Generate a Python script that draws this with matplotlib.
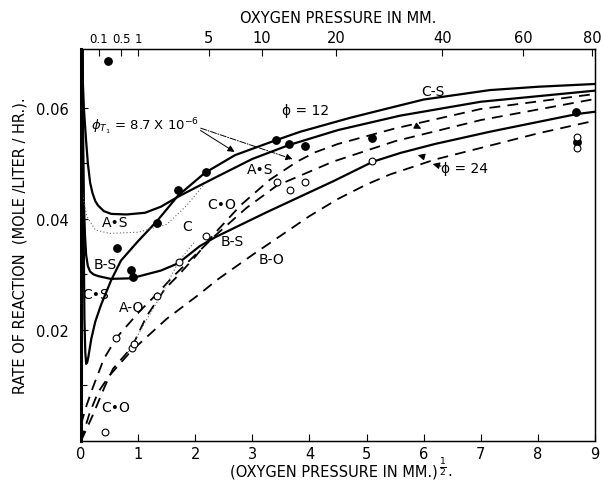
import matplotlib
matplotlib.use("Agg")
import matplotlib.pyplot as plt
import numpy as np

# x = (oxygen pressure in mm)^1/2, y = rate of reaction (mole/liter/hr)

# solid curves
cs_x = [0.03, 0.045, 0.06, 0.075, 0.09, 0.11, 0.13, 0.18, 0.25, 0.35, 0.53, 0.70, 1.0, 1.33, 1.70, 2.17, 2.7, 3.42, 3.84, 4.71, 5.41, 6.0, 7.16, 8.0, 9.0]
cs_y = [0.072, 0.040, 0.022, 0.016, 0.0139, 0.0142, 0.0152, 0.0184, 0.0215, 0.0245, 0.0290, 0.0325, 0.0360, 0.0396, 0.0442, 0.0483, 0.0515, 0.0542, 0.0557, 0.0582, 0.0600, 0.0615, 0.0632, 0.0638, 0.0643]

as_x = [0.01, 0.05, 0.09, 0.12, 0.16, 0.2, 0.25, 0.30, 0.4, 0.53, 0.8, 1.12, 1.4, 1.70, 2.0, 2.4, 3.0, 3.64, 4.5, 5.59, 7.0, 9.0]
as_y = [0.070, 0.060, 0.054, 0.0500, 0.0465, 0.0447, 0.0432, 0.0424, 0.0414, 0.0409, 0.0408, 0.0411, 0.0422, 0.0440, 0.0456, 0.0477, 0.0508, 0.0533, 0.0560, 0.0586, 0.0611, 0.0631]

bs_x = [0.02, 0.035, 0.05, 0.07, 0.09, 0.12, 0.16, 0.22, 0.30, 0.52, 0.88, 1.4, 1.7, 2.08, 2.35, 3.25, 4.42, 5.11, 5.6, 6.2, 7.16, 8.69, 9.0]
bs_y = [0.072, 0.052, 0.043, 0.037, 0.0335, 0.0315, 0.0305, 0.0300, 0.0297, 0.0292, 0.0293, 0.0307, 0.0320, 0.0351, 0.0367, 0.0412, 0.0468, 0.0503, 0.0519, 0.0535, 0.0557, 0.0589, 0.0593]

# dashed curves
ao_x = [0.0, 0.1, 0.21, 0.4, 0.63, 1.03, 1.33, 1.6, 2.0, 2.35, 2.9, 3.43, 4.41, 5.5, 7.0, 9.0]
ao_y = [0.003, 0.0065, 0.0097, 0.0148, 0.0187, 0.0234, 0.0265, 0.0295, 0.0335, 0.0370, 0.0420, 0.0460, 0.0503, 0.0540, 0.0578, 0.0616]

co_x = [0.0, 0.2, 0.42, 0.56, 0.89, 1.15, 1.47, 1.7, 2.0, 2.35, 2.8, 3.3, 3.78, 4.1, 4.5, 5.5, 7.0, 9.0]
co_y = [0.0, 0.0045, 0.0099, 0.0130, 0.0169, 0.0225, 0.0274, 0.0298, 0.0332, 0.0375, 0.0425, 0.0470, 0.0503, 0.0520, 0.0535, 0.0563, 0.0598, 0.0625]

bo_x = [0.0, 0.15, 0.3, 0.5, 0.86, 1.5, 2.08, 2.38, 3.0, 3.5, 4.0, 4.5, 5.0, 5.41, 6.2, 7.16, 8.0, 9.0]
bo_y = [0.0, 0.005, 0.0088, 0.0118, 0.0160, 0.0220, 0.0265, 0.0290, 0.0335, 0.0370, 0.0405, 0.0436, 0.0462, 0.0480, 0.0507, 0.0532, 0.0554, 0.0577]

# dotted curves
dot_as_x = [0.02, 0.1, 0.25, 0.5, 1.0, 1.5, 1.85, 2.14]
dot_as_y = [0.045, 0.0405, 0.0380, 0.0374, 0.0376, 0.0390, 0.0424, 0.0460]
dot_c_x = [0.8, 1.1, 1.4, 1.72, 2.0]
dot_c_y = [0.0155, 0.0210, 0.0262, 0.0325, 0.0360]

# experimental points
filled_x = [0.47, 0.63, 0.88, 0.91, 1.33, 1.70, 2.19, 3.42, 3.64, 3.92, 5.10, 8.67, 8.69]
filled_y = [0.0685, 0.0348, 0.0308, 0.0296, 0.0393, 0.0452, 0.0484, 0.0542, 0.0535, 0.0532, 0.0546, 0.0593, 0.0539]
open_x = [0.42, 0.61, 0.90, 0.92, 1.33, 1.72, 2.19, 3.43, 3.66, 3.92, 5.10, 8.68, 8.68]
open_y = [0.0016, 0.0186, 0.0168, 0.0174, 0.0262, 0.0323, 0.0369, 0.0467, 0.0452, 0.0467, 0.0505, 0.0547, 0.0527]

bottom_ticks = [0, 1, 2, 3, 4, 5, 6, 7, 8, 9]
y_ticks = [0.02, 0.04, 0.06]
y_labels = ["0.02", "0.04", "0.06"]
top_pressures = [0.1, 0.5, 1, 5, 10, 20, 40, 60, 80]
top_labels = ["0.1", "0.5", "1", "5", "10", "20", "40", "60", "80"]

fs = 10.5
fig = plt.figure(figsize=(6.02, 4.85), dpi=100)
ax = fig.add_axes([81 / 602, 43 / 485, 514 / 602, 392 / 485])

ax.plot(cs_x, cs_y, color="black", lw=1.6)
ax.plot(as_x, as_y, color="black", lw=1.6)
ax.plot(bs_x, bs_y, color="black", lw=1.6)
for xs, ys in [(ao_x, ao_y), (co_x, co_y), (bo_x, bo_y)]:
    ax.plot(xs, ys, color="black", lw=1.3, dashes=(6, 4))
ax.plot(dot_as_x, dot_as_y, color="0.4", lw=0.8, ls=(0, (1, 2)))
ax.plot(dot_c_x, dot_c_y, color="0.4", lw=0.8, ls=(0, (1, 2)))

ax.scatter(filled_x, filled_y, s=28, color="black", zorder=5)
ax.scatter(open_x, open_y, s=24, facecolor="white", edgecolor="black", lw=0.8, zorder=5)

# curve labels
labels = [
    ("C-S", 6.16, 0.0631), ("A\u2022S", 3.13, 0.0490), ("A\u2022S", 0.60, 0.0395),
    ("B-S", 0.42, 0.0319), ("C\u2022S", 0.26, 0.0265), ("A-O", 0.88, 0.0241),
    ("C\u2022O", 0.61, 0.0061), ("C\u2022O", 2.47, 0.0427), ("C", 1.86, 0.0387),
    ("B-S", 2.64, 0.0360), ("B-O", 3.34, 0.0328),
]
for txt, x, y in labels:
    ax.text(x, y, txt, fontsize=fs - 0.5, ha="center", va="center")

ax.text(3.94, 0.0596, "\u03d5 = 12", fontsize=fs - 0.5, ha="center", va="center")
ax.text(6.72, 0.0492, "\u03d5 = 24", fontsize=fs - 0.5, ha="center", va="center")
ax.text(1.12, 0.0568, r"$\phi_{T_1}$ = 8.7 X 10$^{-6}$", fontsize=fs - 1, ha="center", va="center")

# arrows
ax.annotate("", xy=(2.73, 0.0518), xytext=(2.05, 0.0562),
            arrowprops=dict(arrowstyle="-|>", lw=0.7, color="black"))
ax.annotate("", xy=(3.75, 0.0506), xytext=(2.05, 0.0565),
            arrowprops=dict(arrowstyle="-|>", lw=0.7, ls="-.", color="black"))
ax.annotate("", xy=(6.11, 0.0500), xytext=(6.35, 0.0494),
            arrowprops=dict(arrowstyle="-|>", lw=0.8, color="black"))
ax.annotate("", xy=(5.85, 0.0516), xytext=(6.0, 0.0512),
            arrowprops=dict(arrowstyle="-|>", lw=0.8, color="black"))
ax.annotate("", xy=(6.0, 0.0560), xytext=(5.85, 0.0568),
            arrowprops=dict(arrowstyle="-|>", lw=0.8, color="black"))

ax.set_xlim(0, 9)
ax.set_ylim(0, 0.0706)
ax.set_xticks(bottom_ticks)
ax.set_xticklabels([str(t) for t in bottom_ticks], fontsize=fs)
ax.set_yticks(y_ticks)
ax.set_yticklabels(y_labels, fontsize=fs)
ax.set_yticks([0.01, 0.03, 0.05], minor=True)
ax.tick_params(direction="in", length=5, width=0.8)
ax.tick_params(axis="y", pad=9)
ax.tick_params(which="minor", direction="in", length=4, width=0.8)
for side in ["top", "right", "bottom"]:
    ax.spines[side].set_linewidth(1.0)
ax.spines["left"].set_linewidth(2.2)

ax2 = ax.twiny()
ax2.set_xlim(0, 9)
ax2.set_xticks(np.sqrt(top_pressures))
ax2.set_xticklabels(top_labels, fontsize=fs)
for lbl in ax2.get_xticklabels()[:3]:
    lbl.set_fontsize(fs - 2)
ax2.tick_params(direction="in", length=5, width=0.8, pad=3)
ax2.set_xlabel("OXYGEN PRESSURE IN MM.", fontsize=fs, labelpad=6)

# bottom axis title, with a small stacked 1/2 after the bracket
xl = fig.text(0.555, 0.018, "(OXYGEN PRESSURE IN MM.)", fontsize=fs,
              ha="center", va="baseline")
fig.canvas.draw()
bb = xl.get_window_extent()
fig.text((bb.x1 + 1) / fig.bbox.width, 0.028, r"$\frac{1}{2}$", fontsize=fs - 1,
         ha="left", va="baseline")
fig.text((bb.x1 + 9) / fig.bbox.width, 0.018, ".", fontsize=fs,
         ha="left", va="baseline")
ax.set_ylabel("RATE OF REACTION  (MOLE /LITER / HR.).", fontsize=fs, labelpad=6)

fig.savefig("out.png", dpi=100)
